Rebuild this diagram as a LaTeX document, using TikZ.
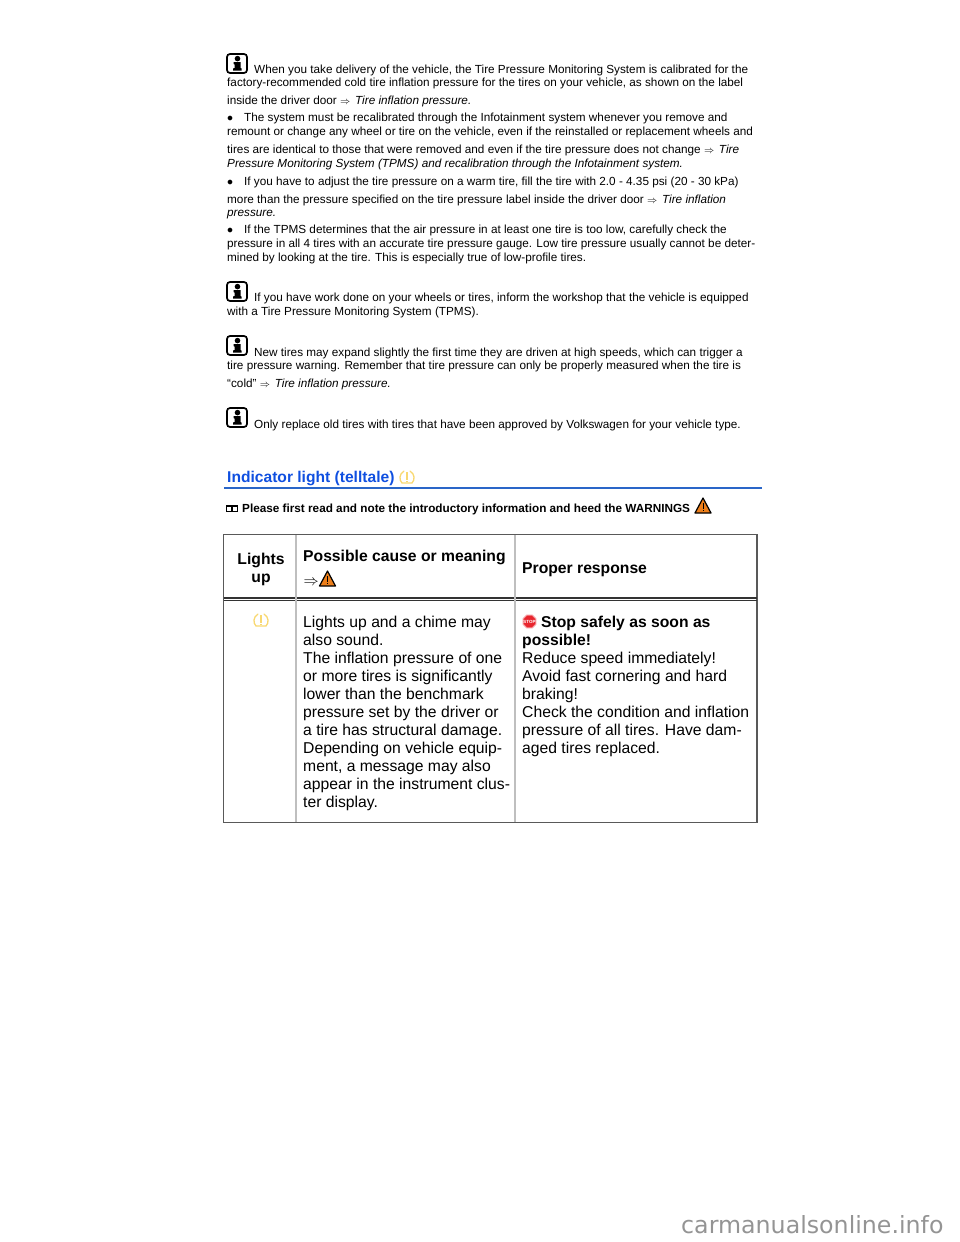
\documentclass[tikz,border=0pt]{standalone}
\usepackage{fontspec}
\setmainfont{Liberation Sans}
\newfontfamily\sitefont{DejaVu Sans}
\definecolor{headblue}{HTML}{0F4FE0}
\definecolor{ruleblue}{HTML}{2A66C8}
\definecolor{lampyellow}{HTML}{F8D871}
\definecolor{warnorange}{HTML}{EE7F1A}
\definecolor{stopred}{HTML}{E8262E}
\tikzset{
  body/.style={anchor=base west,inner sep=0pt,font=\fontsize{11.75}{13}\selectfont},
  cell/.style={anchor=base west,inner sep=0pt,font=\fontsize{15.7}{18}\selectfont},
  cellbf/.style={cell,font=\fontsize{15.7}{18}\selectfont\bfseries},
  infoicon/.pic={
    \draw[line width=1.7pt,rounded corners=3pt,fill=white] (0,0) rectangle (20,19);
    \fill (10.5,4.6) circle (2.8);
    \fill (6.5,8) -- (13.5,8) -- (13.5,14) -- (14.5,14.5) -- (14.5,16.5) -- (6,16.5) -- (6,14.5) -- (7.5,14) -- (7.5,10.5) -- (6.5,10) -- cycle;
  },
  warnicon/.pic={
    \draw[line width=1.2pt,fill=warnorange,line join=round] (0,0) -- (8,15) -- (-8,15) -- cycle;
    \draw[line width=.9pt] (0,5) -- (0,10.5) (0,12) -- (0,13.2);
  },
  lampicon/.pic={
    \draw[lampyellow,line width=1.3pt,line cap=round]
      (-3,-6) .. controls (-8,-3) and (-8,3) .. (-5,6) -- (5,6)
      .. controls (8,3) and (8,-3) .. (3,-6);
    \draw[lampyellow,line width=1.2pt] (0,-5) -- (0,2.5) (0,4) -- (0,5);
  },
  stopicon/.pic={
    \fill[stopred,draw=stopred!45,line width=1pt] (22.5:7) -- (67.5:7) -- (112.5:7) -- (157.5:7) -- (202.5:7) -- (247.5:7) -- (292.5:7) -- (337.5:7) -- cycle;
    \node[text=white,inner sep=0pt,font=\fontsize{4.5}{5}\selectfont\bfseries] (-t) at (0,0) {STOP};
  },
  bookicon/.pic={
    \draw[line width=1.1pt] (-5.5,-3) rectangle (0,2.5) (0,-3) rectangle (5.5,2.5);
    \fill (-.8,-3) rectangle (1.2,3);
  },
}
\newcommand{\arrowto}{\scalebox{.85}{$\Rightarrow$}\hspace{1.5pt}}
\newcommand{\bigarrowto}{\hspace{.5pt}\scalebox{1.05}{$\Rightarrow$}}
\begin{document}
\begin{tikzpicture}[x=1pt,y=-1pt]
\useasboundingbox (0,0) rectangle (960,1242);
% notes
\pic (infoa) at (227,54) {infoicon};
\node[body] (la) at (254,73) {When you take delivery of the vehicle, the Tire Pressure Monitoring System is calibrated for the};
\node[body] (lb) at (227,86) {factory-recommended cold tire inflation pressure for the tires on your vehicle, as shown on the label};
\node[body] (lc) at (227,104) {inside the driver door \arrowto\ \textit{Tire inflation pressure.}};
\node[body] (ld) at (227,121) {$\bullet$};
\node[body] (le) at (244,121) {The system must be recalibrated through the Infotainment system whenever you remove and};
\node[body] (lf) at (227,135) {remount or change any wheel or tire on the vehicle, even if the reinstalled or replacement wheels and};
\node[body] (lg) at (227,153) {tires are identical to those that were removed and even if the tire pressure does not change \arrowto\ \textit{Tire}};
\node[body] (lh) at (227,167) {\textit{Pressure Monitoring System (TPMS) and recalibration through the Infotainment system.}};
\node[body] (li) at (227,185) {$\bullet$};
\node[body] (lj) at (244,185) {If you have to adjust the tire pressure on a warm tire, fill the tire with 2.0 - 4.35 psi (20 - 30 kPa)};
\node[body] (lk) at (227,203) {more than the pressure specified on the tire pressure label inside the driver door \arrowto\ \textit{Tire inflation}};
\node[body] (ll) at (227,216) {\textit{pressure.}};
\node[body] (lm) at (227,233) {$\bullet$};
\node[body] (ln) at (244,233) {If the TPMS determines that the air pressure in at least one tire is too low, carefully check the};
\node[body] (lo) at (227,247) {pressure in all 4 tires with an accurate tire pressure gauge. Low tire pressure usually cannot be deter-};
\node[body] (lp) at (227,261) {mined by looking at the tire. This is especially true of low-profile tires.};
\pic (infob) at (227,282) {infoicon};
\node[body] (lq) at (254,301) {If you have work done on your wheels or tires, inform the workshop that the vehicle is equipped};
\node[body] (lr) at (227,315) {with a Tire Pressure Monitoring System (TPMS).};
\pic (infoc) at (227,336) {infoicon};
\node[body] (ls) at (254,356) {New tires may expand slightly the first time they are driven at high speeds, which can trigger a};
\node[body] (lt) at (227,369) {tire pressure warning. Remember that tire pressure can only be properly measured when the tire is};
\node[body] (lu) at (227,387) {“cold” \arrowto\ \textit{Tire inflation pressure.}};
\pic (infod) at (227,408) {infoicon};
\node[body] (lv) at (254,428) {Only replace old tires with tires that have been approved by Volkswagen for your vehicle type.};
% heading
\node[body,font=\fontsize{15.6}{18}\selectfont\bfseries,text=headblue] (title) at (227,482.5) {Indicator light (telltale)};
\pic (lampa) at (407,477) {lampicon};
\draw[ruleblue,line width=1.5pt] (224,488) -- (762,488);
\pic (book) at (232,509) {bookicon};
\node[body,font=\fontsize{11.75}{13}\selectfont\bfseries] (please) at (242,512) {Please first read and note the introductory information and heed the WARNINGS};
\pic (warna) at (703,498) {warnicon};
% table
\draw[black!65,line width=1.2pt] (223.5,534.5) rectangle (757,822.5);
\draw[black!80,line width=1.1pt] (223.5,598) -- (757,598) (223.5,600.5) -- (757,600.5);
\draw[black!25,line width=1.3pt] (296,535) -- (296,822) (515,535) -- (515,822);
\node[cellbf,anchor=base] (hda) at (261,564.5) {Lights};
\node[cellbf,anchor=base] (hdb) at (261,582.5) {up};
\node[cellbf] (hdc) at (303,561.5) {Possible cause or meaning};
\node[cell] (hdd) at (303,585) {\bigarrowto};
\pic (warnb) at (327.5,571) {warnicon};
\node[cellbf] (hde) at (522,573.5) {Proper response};
\pic (lampb) at (261,620) {lampicon};
% middle column
\node[cell] (ma) at (303,627) {Lights up and a chime may};
\node[cell] (mb) at (303,645) {also sound.};
\node[cell] (mc) at (303,663) {The inflation pressure of one};
\node[cell] (md) at (303,681) {or more tires is significantly};
\node[cell] (me) at (303,699) {lower than the benchmark};
\node[cell] (mf) at (303,717) {pressure set by the driver or};
\node[cell] (mg) at (303,735) {a tire has structural damage.};
\node[cell] (mh) at (303,753) {Depending on vehicle equip-};
\node[cell] (mi) at (303,771) {ment, a message may also};
\node[cell] (mj) at (303,789) {appear in the instrument clus-};
\node[cell] (mk) at (303,807) {ter display.};
% right column
\pic (stop) at (529.5,621.5) {stopicon};
\node[cellbf] (ra) at (541,627) {Stop safely as soon as};
\node[cellbf] (rb) at (522,645) {possible!};
\node[cell] (rc) at (522,663) {Reduce speed immediately!};
\node[cell] (rd) at (522,681) {Avoid fast cornering and hard};
\node[cell] (re) at (522,699) {braking!};
\node[cell] (rf) at (522,717) {Check the condition and inflation};
\node[cell] (rg) at (522,735) {pressure of all tires. Have dam-};
\node[cell] (rh) at (522,753) {aged tires replaced.};
% watermark
\node[anchor=base west,inner sep=0pt,text=black!42,font=\sitefont\fontsize{23.7}{26}\selectfont] (site) at (681,1233) {carmanualsonline.info};
\end{tikzpicture}
\end{document}
